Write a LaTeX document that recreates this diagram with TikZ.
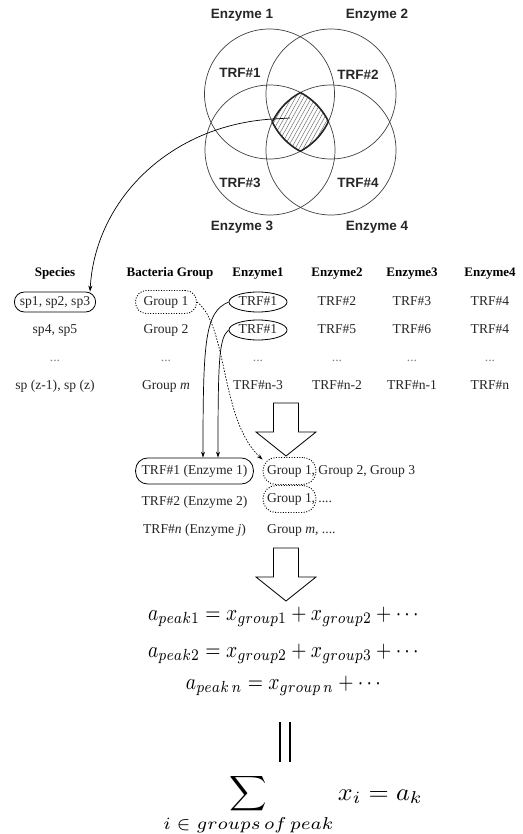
\documentclass[tikz,border=0pt]{standalone}
\usepackage{amsmath}
\usepackage[no-math]{fontspec}
\setmainfont{Liberation Serif}
\newfontfamily\vennfont{Liberation Sans}
\usetikzlibrary{arrows.meta, positioning, calc, shapes.geometric}

\begin{document}
\begin{tikzpicture}[
    x=1pt, y=-1pt,
    venn/.style={draw=black!75, line width=0.7pt},
    vlabel/.style={font=\vennfont\bfseries\fontsize{13.5}{16}\selectfont, text=black!85},
    cell/.style={font=\fontsize{13.6}{16}\selectfont, text=black!85, text height=9.5pt, text depth=3pt, inner sep=0pt},
    headcell/.style={cell, font=\bfseries\fontsize{13}{16}\selectfont, text=black},
    gapcell/.style={cell, text=black!50},
    pill/.style={draw, line width=0.8pt, rounded corners=10pt, minimum height=20pt, inner xsep=5.5pt},
    dotbox/.style={draw, line width=0.9pt, dash pattern=on 1pt off 1.6pt, rounded corners=11pt, minimum height=23pt, inner xsep=8pt},
    oval/.style={draw, line width=0.8pt, ellipse, minimum width=58pt, minimum height=20pt, inner sep=0pt},
    arr/.style={-{Stealth[length=6pt, width=4pt]}, line width=0.7pt},
    darr/.style={arr, dash pattern=on 1.5pt off 1.5pt},
    bigarrow/.style={draw, line width=0.8pt, fill=white},
    eqn/.style={inner sep=0pt, anchor=base}
]
\useasboundingbox (0,0) rectangle (522,834);

% Venn diagram of the four enzymes
\coordinate (c1) at (269.5,94);
\coordinate (c2) at (331,94);
\coordinate (c3) at (270,150);
\coordinate (c4) at (331,150);
\foreach \one in {c1,c2,c3,c4}
    \draw[venn] (\one) circle[radius=65pt];

% hatched common part
\begin{scope}
    \clip (c1) circle[radius=65pt];
    \clip (c2) circle[radius=65pt];
    \clip (c3) circle[radius=65pt];
    \clip (c4) circle[radius=65pt];
    \foreach \k in {226,230,...,330}
        \draw[black!55, line width=0.5pt] (\k,158) -- (\k+40,86);
\end{scope}
\foreach \one/\two/\three/\four in {c1/c2/c3/c4, c2/c1/c3/c4, c3/c1/c2/c4, c4/c1/c2/c3} {
    \begin{scope}
        \clip (\two) circle[radius=65.6pt];
        \clip (\three) circle[radius=65.6pt];
        \clip (\four) circle[radius=65.6pt];
        \draw[line width=1.6pt, black!85] (\one) circle[radius=65pt];
    \end{scope}
}

\node[vlabel] (lab-e1) at (242,15) {Enzyme 1};
\node[vlabel] (lab-e2) at (377,15) {Enzyme 2};
\node[vlabel] (lab-e3) at (242,227) {Enzyme 3};
\node[vlabel] (lab-e4) at (377,227) {Enzyme 4};
\node[vlabel] (lab-t1) at (240,73) {TRF\#1};
\node[vlabel] (lab-t2) at (358,75) {TRF\#2};
\node[vlabel] (lab-t3) at (240,183) {TRF\#3};
\node[vlabel] (lab-t4) at (358,183) {TRF\#4};
\coordinate (hatch) at (290,118);

% table
\node[headcell] (h-sp) at (55,273) {Species};
\node[headcell] (h-bg) at (170,273) {Bacteria Group};
\node[headcell] (h-e1) at (258,273) {Enzyme1};
\node[headcell] (h-e2) at (337,273) {Enzyme2};
\node[headcell] (h-e3) at (412,273) {Enzyme3};
\node[headcell] (h-e4) at (490,273) {Enzyme4};

\begin{scope}[on grid, node distance=28pt]
\node[cell, pill, below=29pt of h-sp] (sp-1) {sp1, sp2, sp3};
\node[cell, below=of sp-1] (sp-2) {sp4, sp5};
\node[gapcell, below=of sp-2] (sp-3) {...};
\node[cell, below=of sp-3] (sp-4) {sp (z-1), sp (z)};

\node[cell, dotbox, below left=29pt and 4pt of h-bg] (bg-1) {Group 1};
\node[cell, below=of bg-1] (bg-2) {Group 2};
\node[gapcell, below=of bg-2] (bg-3) {...};
\node[cell, below=of bg-3] (bg-4) {Group \textit{m}};

\node[cell, oval, below=29pt of h-e1] (e1-1) {TRF\#1};
\node[cell, oval, below=of e1-1] (e1-2) {TRF\#1};
\node[gapcell, below=of e1-2] (e1-3) {...};
\node[cell, below=of e1-3] (e1-4) {TRF\#n-3};

\foreach \col/\ra/\rb/\rd in {e2/2/5/n-2, e3/3/6/n-1, e4/4/4/n} {
    \node[cell, below=29pt of h-\col] (\col-1) {TRF\#\ra};
    \node[cell, below=of \col-1] (\col-2) {TRF\#\rb};
    \node[gapcell, below=of \col-2] (\col-3) {...};
    \node[cell, below=of \col-3] (\col-4) {TRF\#\rd};
}

% peaks and their groups
\node[cell, pill, rounded corners=12pt, minimum height=26pt, inner xsep=6pt] (pk-1) at (194.5,471) {TRF\#1 (Enzyme 1)};
\node[cell, below=31pt of pk-1] (pk-2) {TRF\#2 (Enzyme 2)};
\node[cell, below=28pt of pk-2] (pk-3) {TRF\#\textit{n} (Enzyme \textit{j})};
\node[cell, dotbox, rounded corners=13pt, minimum height=27pt, inner xsep=4pt, right=95pt of pk-1] (pg-1) {Group 1};
\node[cell, dotbox, rounded corners=13pt, minimum height=27pt, inner xsep=4pt, below=28pt of pg-1] (pg-2) {Group 1};
\end{scope}
\node[cell, anchor=west] (pg-1r) at ([xshift=-5pt]pg-1.east) {, Group 2, Group 3};
\node[cell, anchor=west] (pg-2r) at ([xshift=-5pt]pg-2.east) {, ....};
\node[cell, anchor=west] (pg-3) at (267,530) {Group \textit{m}, ....};

% connectors
\draw[arr] (hatch) -- ++(-17,1) .. controls (170,125) and (95,200) .. ([xshift=-6pt]sp-1.north east);
\draw[arr] (e1-1.west) .. controls (205,312) and (203,340) .. ([xshift=8.5pt]pk-1.north);
\draw[arr] (e1-2.west) .. controls (219,338) and (218,360) .. ([xshift=23.5pt]pk-1.north);
\draw[darr] (bg-1.east) .. controls (228,325) and (220,420) .. (pg-1.157);

% big downward arrows
\foreach \ya in {403,548}
    \draw[bigarrow] (273.5,\ya) -- (298.5,\ya) -- (298.5,\ya+29) -- (316,\ya+29)
        -- (286,\ya+53) -- (256,\ya+29) -- (273.5,\ya+29) -- cycle;

% equations
\node[eqn] (eq-1) at (285,620) {\scalebox{1.96}[2.3]{$a_{peak1} = x_{group1} + x_{group2} + \cdots$}};
\node[eqn] (eq-2) at (285,657) {\scalebox{1.96}[2.3]{$a_{peak2} = x_{group2} + x_{group3} + \cdots$}};
\node[eqn] (eq-3) at (285,689) {\scalebox{1.96}[2.3]{$a_{peak\,n} = x_{group\,n} + \cdots$}};
\draw[line width=2.5pt] (280,722) -- (280,762);
\draw[line width=2.5pt] (290,722) -- (290,762);
\node[eqn] (eq-sum) at (293,800) {\scalebox{2.6}[2.45]{$\displaystyle\sum_{i\;\in\;groups\,of\,peak} x_i = a_k$}};

\end{tikzpicture}
\end{document}
